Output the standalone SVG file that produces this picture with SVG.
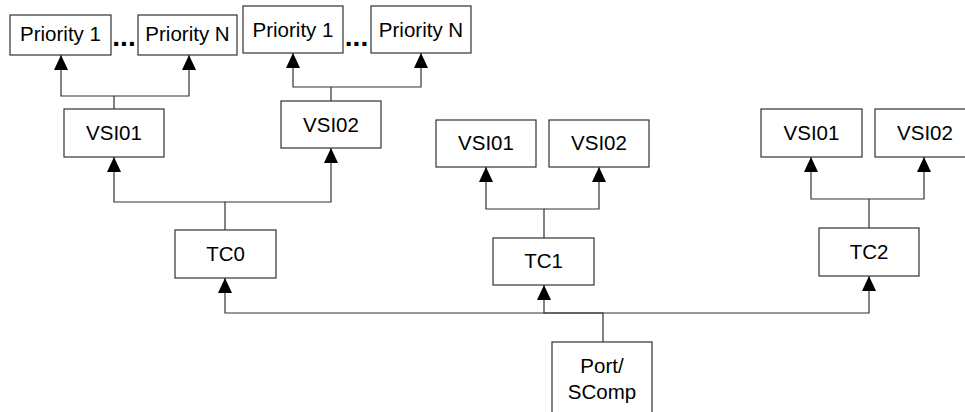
<svg xmlns="http://www.w3.org/2000/svg" width="965" height="412" viewBox="0 0 965 412">
<style>
  .box { fill: #ffffff; stroke: #333333; stroke-width: 1.2; }
  .lbl { font-family: "Liberation Sans", Arial, sans-serif; font-size: 20.5px; fill: #000000; text-anchor: middle; }
  .dots { font-family: "Liberation Sans", Arial, sans-serif; font-size: 28px; font-weight: bold; fill: #000000; text-anchor: middle; }
  .conn { fill: none; stroke: #333333; stroke-width: 1.2; marker-end: url(#arrow); }
</style>
<defs>
  <marker id="arrow" viewBox="0 0 15 14" refX="15" refY="7" markerWidth="15" markerHeight="14" markerUnits="userSpaceOnUse" orient="auto">
    <path d="M0,0 L15,7 L0,14 Z" fill="#000000"/>
  </marker>
</defs>
<rect width="965" height="412" fill="#ffffff"/>

<g id="connectors">
  <path class="conn" d="M114,109 V96 H61 V55"/>
  <path class="conn" d="M114,96 H189 V55"/>
  <path class="conn" d="M331,101 V87 H293 V53"/>
  <path class="conn" d="M331,87 H421 V53"/>
  <path class="conn" d="M225,230 V202 H114 V157"/>
  <path class="conn" d="M225,202 H331 V148"/>
  <path class="conn" d="M544,238 V209 H486 V167"/>
  <path class="conn" d="M544,209 H599 V167"/>
  <path class="conn" d="M869,228 V199 H811 V157"/>
  <path class="conn" d="M869,199 H924 V157"/>
  <path class="conn" d="M603,342 V313 H225 V278"/>
  <path class="conn" d="M603,313 H544 V285"/>
  <path class="conn" d="M603,313 H869 V276"/>
</g>

<g id="p1a"><rect class="box" x="10" y="15" width="101" height="40"/><text class="lbl" x="60.5" y="41">Priority 1</text></g>
<g id="dotsa"><text class="dots" x="124" y="46">...</text></g>
<g id="pna"><rect class="box" x="138" y="15" width="99" height="40"/><text class="lbl" x="187.5" y="41">Priority N</text></g>

<g id="p1b"><rect class="box" x="243" y="6" width="100" height="47"/><text class="lbl" x="293" y="37">Priority 1</text></g>
<g id="dotsb"><text class="dots" x="356.5" y="46">...</text></g>
<g id="pnb"><rect class="box" x="371" y="6" width="100" height="47"/><text class="lbl" x="421" y="37">Priority N</text></g>

<g id="tc0_vsi01"><rect class="box" x="64" y="109" width="100" height="48"/><text class="lbl" x="114" y="140">VSI01</text></g>
<g id="tc0_vsi02"><rect class="box" x="281" y="101" width="100" height="47"/><text class="lbl" x="331" y="132">VSI02</text></g>
<g id="tc0"><rect class="box" x="175" y="230" width="101" height="48"/><text class="lbl" x="225.5" y="261">TC0</text></g>

<g id="tc1_vsi01"><rect class="box" x="436" y="120" width="100" height="47"/><text class="lbl" x="486" y="150">VSI01</text></g>
<g id="tc1_vsi02"><rect class="box" x="549" y="120" width="100" height="47"/><text class="lbl" x="599" y="150">VSI02</text></g>
<g id="tc1"><rect class="box" x="493" y="238" width="101" height="47"/><text class="lbl" x="543.5" y="268">TC1</text></g>

<g id="tc2_vsi01"><rect class="box" x="761" y="109" width="101" height="48"/><text class="lbl" x="811.5" y="140">VSI01</text></g>
<g id="tc2_vsi02"><rect class="box" x="875" y="109" width="100" height="48"/><text class="lbl" x="925" y="140">VSI02</text></g>
<g id="tc2"><rect class="box" x="819" y="228" width="100" height="48"/><text class="lbl" x="869" y="259">TC2</text></g>

<g id="port"><rect class="box" x="552" y="342" width="100" height="80"/><text class="lbl" x="602" y="373">Port/</text><text class="lbl" x="602" y="399">SComp</text></g>
</svg>
